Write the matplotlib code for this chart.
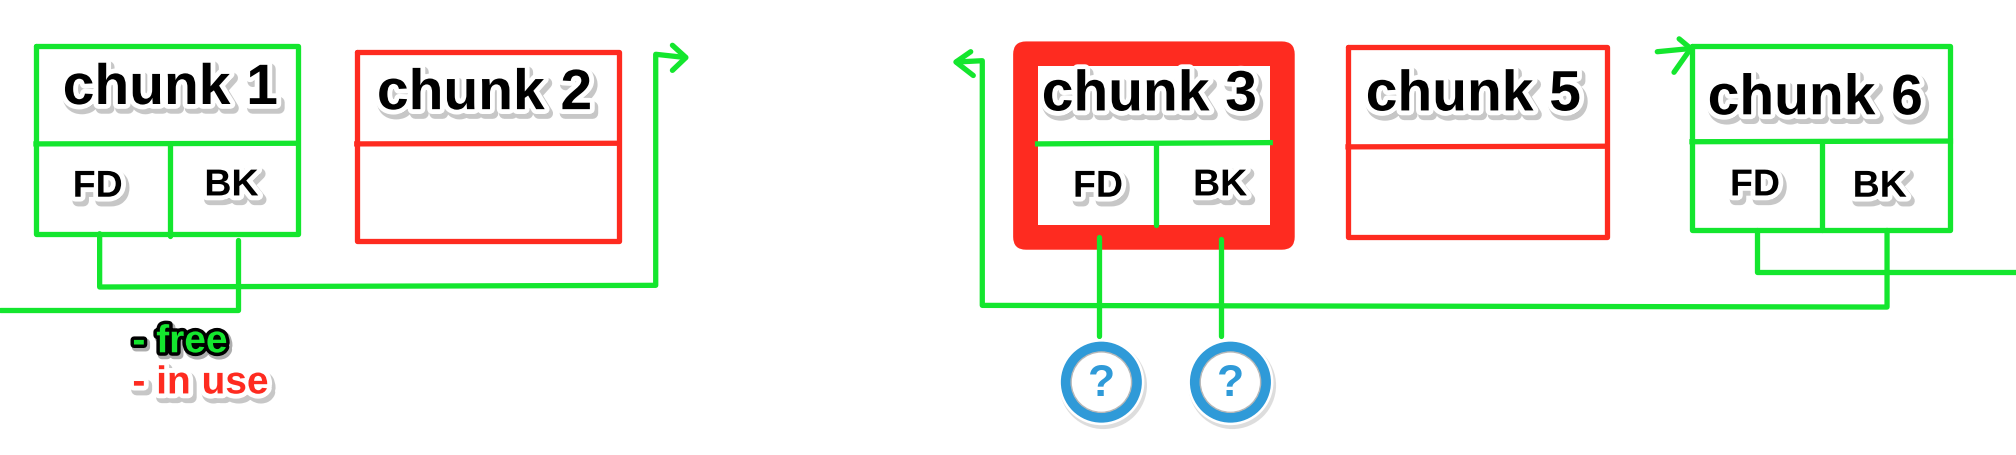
import matplotlib
matplotlib.use('Agg')
import matplotlib.pyplot as plt
import matplotlib.patches as patches
import matplotlib.patheffects as pe

plt.rcParams['font.family'] = ['Liberation Sans', 'DejaVu Sans']

green = '#14e62e'
red = '#fe2b20'
blue = '#2f9ad8'

# sketch units (the picture is drawn on a 1568 wide grid)
W = 1568.0
H = 456.0 * W / 2016.0

# chunks
chunk_labels = ['chunk 1', 'chunk 2', 'chunk 3', 'chunk 5', 'chunk 6']
chunk_state = ['free', 'in use', 'in use', 'in use', 'free']
box_left = [28, 277.5, 807, 1048.5, 1316]
box_right = [232, 481.5, 988, 1250, 1517]
box_top = [36.5, 41.5, 52, 37.5, 36.5]
box_bottom = [182.5, 188, 176, 185, 180]
divider_y = [112.7, 112.7, 112.7, 115, 111]
label_x = [132.6, 377, 894, 1146, 1412]
label_y = [70, 74, 75, 75, 78]

# chunks that carry FD / BK pointers
ptr_chunks = [0, 2, 4]
ptr_split_x = [132.6, 899, 1417]
fd_xy = [(76, 146), (854, 146), (1365, 145)]
bk_xy = [(180, 145), (949, 145), (1462, 146)]

# free list links
links = [
    [(77.5, 182.6), (77.5, 224), (510, 222.7), (510, 43), (533, 45.5)],
    [(185, 187.8), (185, 242), (0, 242)],
    [(1467.7, 180), (1467.7, 239.6), (764, 238.3), (764, 48), (744, 49)],
    [(1366.7, 180), (1366.7, 212), (1568, 212)],
    [(1289, 41), (1315, 38.5)],
    [(855, 185), (855, 262)],
    [(950, 186.5), (950, 262)],
]
arrow_heads = [
    [(523, 36), (533.5, 45.5), (523, 55.5)],
    [(755, 41), (743.5, 49), (757, 59.5)],
    [(1306, 31), (1315, 38.5), (1302, 57)],
]
question_xy = [(856.6, 298), (957, 298)]

legend_labels = ['- free', '- in use']
legend_xy = [(103, 267), (103, 299)]

lw = 3.8

fig = plt.figure(figsize=(20.16, 4.56), dpi=100)
ax = fig.add_axes([0, 0, 1, 1])
ax.set_xlim(0, W)
ax.set_ylim(H, 0)
ax.axis('off')

label_fx = [pe.Stroke(linewidth=8, foreground='#9a9a9a', alpha=0.55, offset=(2, -3)),
            pe.Stroke(linewidth=7, foreground='white'), pe.Normal()]

for i, lab in enumerate(chunk_labels):
    l, r, t, b = box_left[i], box_right[i], box_top[i], box_bottom[i]
    col = green if chunk_state[i] == 'free' else red
    if i == 2:
        # chunk 3: thick red frame around a green chunk
        frame = patches.FancyBboxPatch((l - 19, t - 19), (r - l) + 38, (b - t) + 38,
                                       boxstyle='round,pad=0,rounding_size=10',
                                       fc=red, ec='none', zorder=1)
        ax.add_patch(frame)
        ax.add_patch(patches.Rectangle((l, t), r - l, b - t, fc='white', ec='none', zorder=2))
        ax.plot([l, r], [divider_y[i], divider_y[i] - 1], color=green, lw=lw, zorder=3)
    else:
        ax.plot([l, r, r, l, l], [t, t, b, b, t], color=col, lw=lw,
                solid_joinstyle='round', solid_capstyle='round', zorder=3)
        ax.plot([l, r], [divider_y[i], divider_y[i] - 0.5], color=col, lw=lw, zorder=3)
    ax.text(label_x[i], label_y[i], lab, fontsize=41, fontweight='bold', ha='center',
            va='center', color='black', path_effects=label_fx, zorder=6)

for k, i in enumerate(ptr_chunks):
    sx = ptr_split_x[k]
    ax.plot([sx, sx], [divider_y[i], box_bottom[i] + (2 if i == 0 else 0)], color=green,
            lw=lw, solid_capstyle='round', zorder=3)
    ax.text(fd_xy[k][0], fd_xy[k][1], 'FD', fontsize=27, fontweight='bold', ha='center',
            va='center', color='black', path_effects=label_fx, zorder=6)
    ax.text(bk_xy[k][0], bk_xy[k][1], 'BK', fontsize=27, fontweight='bold', ha='center',
            va='center', color='black', path_effects=label_fx, zorder=6)

for path in links + arrow_heads:
    xs = [p[0] for p in path]
    ys = [p[1] for p in path]
    ax.plot(xs, ys, color=green, lw=lw, solid_joinstyle='round',
            solid_capstyle='round', zorder=4)

for cx, cy in question_xy:
    ax.add_patch(patches.Circle((cx + 1.5, cy + 2.5), 34, fc='#bdbdbd', ec='none',
                                alpha=0.5, zorder=4))
    ax.add_patch(patches.Circle((cx, cy), 33.5, fc='white', ec='none', zorder=5))
    ax.add_patch(patches.Circle((cx, cy), 31.5, fc=blue, ec='none', zorder=5))
    ax.add_patch(patches.Circle((cx, cy), 23.5, fc='white', ec='#b8b8b8', lw=1.0, zorder=5))
    ax.text(cx, cy + 1, '?', fontsize=32, fontweight='bold', ha='center', va='center',
            color=blue, zorder=6)

ax.text(legend_xy[0][0], legend_xy[0][1], legend_labels[0], fontsize=28, fontweight='bold',
        ha='left', va='center', color=green, zorder=6,
        path_effects=[pe.Stroke(linewidth=6, foreground='#777777', alpha=0.6, offset=(1.5, -2)),
                      pe.Stroke(linewidth=5, foreground='black'), pe.Normal()])
ax.text(legend_xy[1][0], legend_xy[1][1], legend_labels[1], fontsize=28, fontweight='bold',
        ha='left', va='center', color=red, zorder=6, path_effects=label_fx)

fig.savefig('out.png', dpi=100, facecolor='white')
